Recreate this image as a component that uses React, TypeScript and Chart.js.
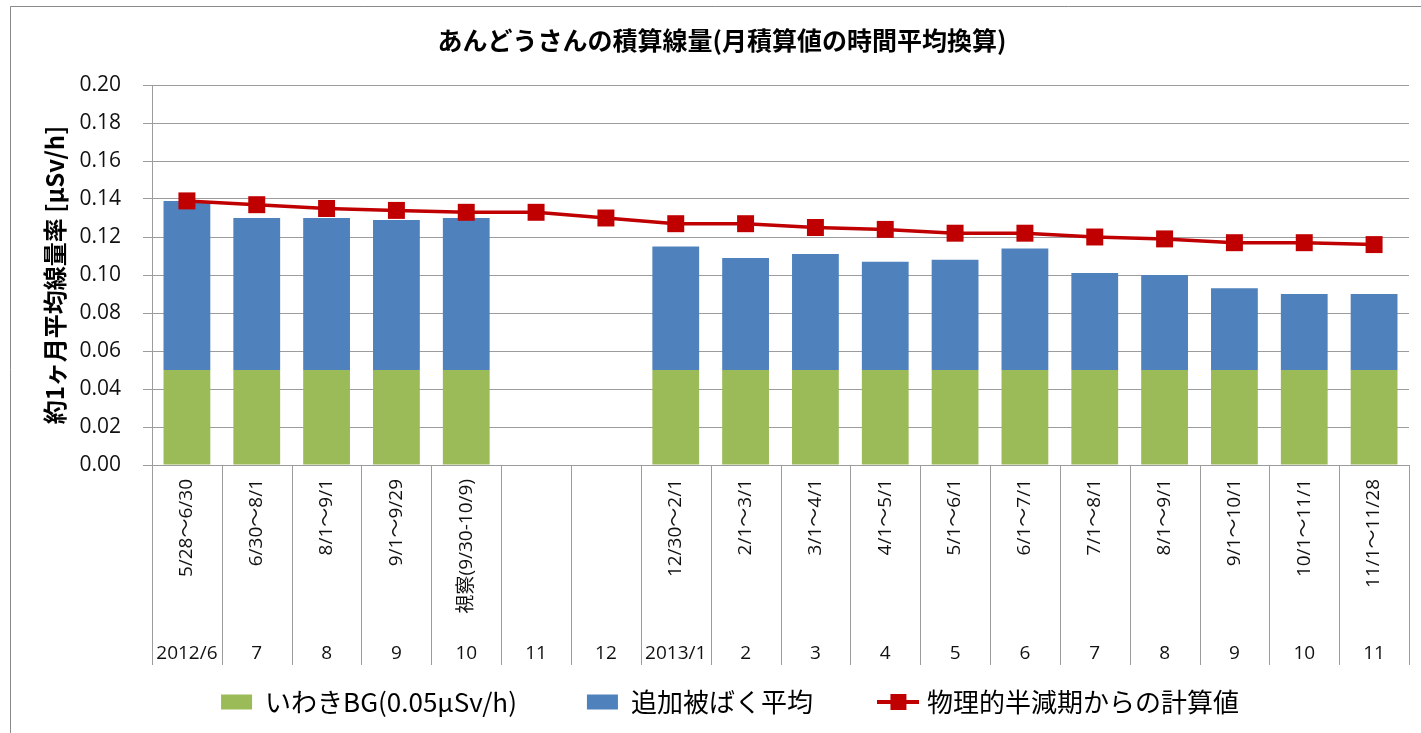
import React, { useEffect, useRef } from 'react';
import { Chart, registerables } from 'chart.js';

Chart.register(...registerables);

const TITLE = 'あんどうさんの積算線量(月積算値の時間平均換算)';
const Y_TITLE = '約1ヶ月平均線量率 [μSv/h]';

const months = ['2012/6', '7', '8', '9', '10', '11', '12', '2013/1', '2', '3', '4', '5', '6', '7', '8', '9', '10', '11'];
const periods = ['5/28～6/30', '6/30～8/1', '8/1～9/1', '9/1～9/29', '視察(9/30-10/9)', '', '', '12/30～2/1', '2/1～3/1', '3/1～4/1', '4/1～5/1', '5/1～6/1', '6/1～7/1', '7/1～8/1', '8/1～9/1', '9/1～10/1', '10/1～11/1', '11/1～11/28'];

const bgLabel = 'いわきBG(0.05μSv/h)';
const addLabel = '追加被ばく平均';
const calcLabel = '物理的半減期からの計算値';

const background = [0.05, 0.05, 0.05, 0.05, 0.05, null, null, 0.05, 0.05, 0.05, 0.05, 0.05, 0.05, 0.05, 0.05, 0.05, 0.05, 0.05];
const additional = [0.089, 0.080, 0.080, 0.079, 0.080, null, null, 0.065, 0.059, 0.061, 0.057, 0.058, 0.064, 0.051, 0.050, 0.043, 0.040, 0.040];
const calculated = [0.139, 0.137, 0.135, 0.134, 0.133, 0.133, 0.130, 0.127, 0.127, 0.125, 0.124, 0.122, 0.122, 0.120, 0.119, 0.117, 0.117, 0.116];

const yTicks = { min: 0, max: 0.2, step: 0.02 };

const GREEN = '#9bbb59';
const BLUE = '#4f81bd';
const RED = '#c00000';
const GRID = '#9c9c9c';
const LATIN = "'Open Sans', 'Noto Sans CJK JP', sans-serif";
const CJK = "'Noto Sans CJK JP', 'Open Sans', sans-serif";

const X_AREA = 154;
const LEGEND_PAD = 70;

const framePlugin = {
  id: 'frame',
  beforeDraw(chart: any) {
    const { ctx, width, height } = chart;
    ctx.save();
    ctx.fillStyle = '#ffffff';
    ctx.fillRect(0, 0, width, height);
    ctx.strokeStyle = '#8a8a8a';
    ctx.lineWidth = 1;
    ctx.beginPath();
    ctx.moveTo(10.5, height);
    ctx.lineTo(10.5, 6.5);
    ctx.lineTo(width, 6.5);
    ctx.stroke();
    ctx.fillStyle = '#000';
    ctx.font = `bold 25px ${CJK}`;
    ctx.textAlign = 'center';
    ctx.textBaseline = 'middle';
    ctx.fillText(TITLE, 722, 40);
    ctx.restore();
  },
};

const xLabelsPlugin = {
  id: 'xLabels',
  afterDraw(chart: any) {
    const { ctx, chartArea } = chart;
    const xs = chart.scales.x;
    const top = chartArea.bottom;
    const n = months.length;
    const w = (chartArea.right - chartArea.left) / n;
    ctx.save();
    ctx.strokeStyle = GRID;
    ctx.lineWidth = 1;
    for (let i = 0; i <= n; i++) {
      const px = Math.round(xs.getPixelForValue(Math.min(i, n - 1)) + (i === n ? w / 2 : -w / 2)) + 0.5;
      ctx.beginPath();
      ctx.moveTo(px, top);
      ctx.lineTo(px, top + 200);
      ctx.stroke();
    }
    ctx.fillStyle = '#111';
    for (let i = 0; i < n; i++) {
      const cx = xs.getPixelForValue(i);
      if (periods[i]) {
        ctx.save();
        ctx.translate(cx, top + 14);
        ctx.rotate(-Math.PI / 2);
        ctx.font = `19px ${LATIN}`;
        ctx.textAlign = 'right';
        ctx.textBaseline = 'middle';
        ctx.fillText(periods[i], 0, 0);
        ctx.restore();
      }
      ctx.font = `19px ${LATIN}`;
      ctx.textAlign = 'center';
      ctx.textBaseline = 'middle';
      ctx.fillText(months[i], cx, top + 189);
    }
    ctx.restore();
  },
};

export default function App() {
  const ref = useRef<HTMLCanvasElement>(null);

  useEffect(() => {
    if (!ref.current) return;
    const icon = document.createElement('canvas');
    icon.width = 42;
    icon.height = 18;
    const ic = icon.getContext('2d')!;
    ic.strokeStyle = RED;
    ic.lineWidth = 4;
    ic.beginPath();
    ic.moveTo(0, 9);
    ic.lineTo(42, 9);
    ic.stroke();
    ic.fillStyle = RED;
    ic.fillRect(13, 1, 16, 16);

    const chart = new Chart(ref.current, {
      type: 'bar',
      data: {
        labels: months,
        datasets: [
          {
            type: 'bar',
            label: bgLabel,
            data: background,
            backgroundColor: GREEN,
            stack: 'bars',
            order: 2,
            barPercentage: 0.67,
            categoryPercentage: 1,
          },
          {
            type: 'bar',
            label: addLabel,
            data: additional,
            backgroundColor: BLUE,
            stack: 'bars',
            order: 2,
            barPercentage: 0.67,
            categoryPercentage: 1,
          },
          {
            type: 'line',
            label: calcLabel,
            data: calculated,
            borderColor: RED,
            backgroundColor: RED,
            borderWidth: 3.5,
            pointStyle: 'rect',
            pointRadius: 12,
            pointBorderWidth: 0,
            pointBackgroundColor: RED,
            stack: 'line',
            order: 0,
          } as any,
        ],
      },
      options: {
        animation: false,
        responsive: true,
        maintainAspectRatio: false,
        layout: { padding: { top: 85, left: 40, right: 1, bottom: 8 } },
        plugins: {
          title: { display: false },
          tooltip: { enabled: false },
          legend: {
            position: 'bottom',
            labels: {
              usePointStyle: true,
              pointStyleWidth: 31,
              boxHeight: 15,
              padding: LEGEND_PAD,
              color: '#000',
              font: { family: CJK, size: 26 },
              sort: (a: any, b: any) => a.datasetIndex - b.datasetIndex,
              generateLabels: (c: any) => {
                const items = (Chart.defaults.plugins.legend.labels as any).generateLabels(c);
                return items.map((it: any) =>
                  it.datasetIndex === 2
                    ? { ...it, pointStyle: icon, lineWidth: 0 }
                    : { ...it, pointStyle: 'rect', lineWidth: 0 }
                );
              },
            },
          },
        },
        scales: {
          x: {
            stacked: true,
            offset: true,
            grid: { display: false },
            border: { display: false },
            ticks: { display: false },
            afterFit: (s: any) => {
              s.height = X_AREA;
            },
          },
          y: {
            stacked: true,
            min: yTicks.min,
            max: yTicks.max,
            grid: { color: GRID, lineWidth: 1, tickLength: 9 },
            border: { display: true, color: GRID },
            ticks: {
              stepSize: yTicks.step,
              padding: 22,
              color: '#111',
              font: { family: LATIN, size: 21 },
              callback: (v: any) => Number(v).toFixed(2),
            },
            title: {
              display: true,
              text: Y_TITLE,
              color: '#000',
              font: { family: CJK, size: 24, weight: 'bold' },
              padding: { top: 0, bottom: 0 },
            },
            afterFit: (s: any) => {
              s.width = 112;
            },
          },
        },
      },
      plugins: [framePlugin, xLabelsPlugin],
    });
    return () => chart.destroy();
  }, []);

  return (
    <div style={{ position: 'absolute', left: 0, top: 0, width: 1421, height: 733 }}>
      <canvas ref={ref} />
    </div>
  );
}
